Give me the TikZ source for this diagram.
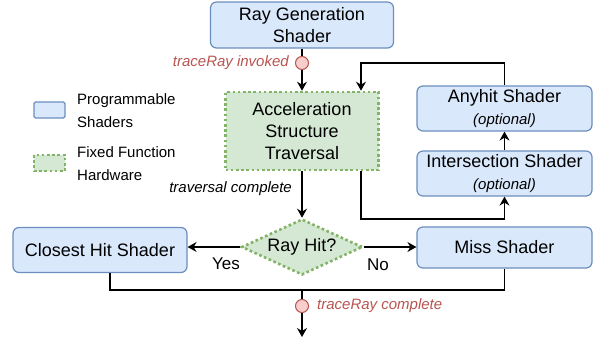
\documentclass[tikz,border=0pt]{standalone}
\usepackage{fontspec}
\setmainfont{Liberation Sans}
\usepackage{xcolor}
\usetikzlibrary{arrows.meta,shapes.geometric}

\definecolor{progfill}{HTML}{DAE8FC}
\definecolor{progline}{HTML}{6C8EBF}
\definecolor{hwfill}{HTML}{D5E8D4}
\definecolor{hwline}{HTML}{82B366}
\definecolor{evfill}{HTML}{F8CECC}
\definecolor{evline}{HTML}{B85450}

\begin{document}
\begin{tikzpicture}[x=1pt,y=-1pt]
        \tikzstyle{prog} = [draw=progline, fill=progfill, line width=1.2pt, rounded corners=6pt,
            inner sep=0pt, align=center, font=\fontsize{18}{22}\selectfont]
        \tikzstyle{hw} = [draw=hwline, fill=hwfill, line width=2.6pt, dash pattern=on 2.6pt off 2.6pt,
            inner sep=0pt, align=center, font=\fontsize{18}{21.6}\selectfont]
        \tikzstyle{ev} = [circle, draw=evline, fill=evfill, line width=1pt, minimum size=13pt, inner sep=0pt]
        \tikzstyle{evtxt} = [text=evline, inner sep=0pt, font=\fontsize{15}{18}\selectfont\itshape]
        \tikzstyle{note} = [inner sep=0pt, font=\fontsize{15}{18}\selectfont\itshape]
        \tikzstyle{lgd} = [inner sep=0pt, anchor=west, align=left, font=\fontsize{15}{23}\selectfont]
        \tikzstyle{yn} = [inner sep=0pt, font=\fontsize{17}{20}\selectfont]
        \tikzstyle{arr} = [-{Stealth[length=9pt,width=10pt,inset=3pt]}]
        \useasboundingbox (0,0) rectangle (595,338);

        % shaders and hardware
        \node[prog, minimum width=183pt, minimum height=46pt] (rg) at (302,25) {Ray Generation\\Shader};
        \node[hw, minimum width=153pt, minimum height=78pt] (accel) at (302,131) {Acceleration\\Structure\\Traversal};
        \node[prog, minimum width=175pt, minimum height=45pt] (any) at (504.5,108.5)
            {Anyhit Shader\\{\fontsize{15}{18}\selectfont\itshape (optional)}};
        \node[prog, minimum width=175pt, minimum height=45pt] (isect) at (504.5,173.5)
            {Intersection Shader\\{\fontsize{15}{18}\selectfont\itshape (optional)}};
        \node[hw, diamond, aspect=2.16, minimum width=121pt, minimum height=56pt] (hit) at (302,247) {Ray Hit?};
        \node[prog, minimum width=174pt, minimum height=45pt] (chs) at (100,250) {Closest Hit Shader};
        \node[prog, minimum width=175pt, minimum height=41pt] (miss) at (504.5,247.5) {Miss Shader};

        % events
        \node[ev] (inv) at (302,63) {};
        \node[evtxt, anchor=east] (invtxt) at (289,63) {traceRay invoked};
        \node[ev] (done) at (302,306) {};
        \node[evtxt, anchor=west] (donetxt) at (317,306) {traceRay complete};
        \node[note, anchor=east] (travtxt) at (292,189) {traversal complete};
        \node[yn] (yes) at (226,264) {Yes};
        \node[yn] (no) at (378,265) {No};
        \coordinate (end) at (302,337);
        \coordinate (lt) at (361,63);
        \coordinate (lb) at (361,219);
        \coordinate (mg) at (302,290);

        % legend
        \node[prog, rounded corners=1.5pt, minimum width=31pt, minimum height=16pt] (lgprog) at (49.5,110) {};
        \node[lgd] (lgprogtxt) at (77,111) {Programmable\\Shaders};
        \node[hw, minimum width=31pt, minimum height=16pt] (lghw) at (49.5,163) {};
        \node[lgd] (lghwtxt) at (77,164) {Fixed Function\\Hardware};

        % connectors
        \begin{scope}[line width=1.4pt]
            \draw (rg) -- (inv);
            \foreach \from/\to in {inv/accel, accel/hit, isect/any, done/end}
                \draw[arr] (\from) -- (\to);
            \draw[arr] (any.north) |- (lt) -- (lt |- accel.north);
            \draw[arr] (lb |- accel.south) -- (lb) -| (isect.south);
            \draw[arr] (hit.west) -- (hit.west -| chs.east);
            \draw[arr] (hit.east) -- (hit.east -| miss.west);
            \draw ([xshift=10pt]chs.south) |- (mg);
            \draw (miss.south) |- (mg) -- (done);
        \end{scope}
    \end{tikzpicture}
\end{document}
